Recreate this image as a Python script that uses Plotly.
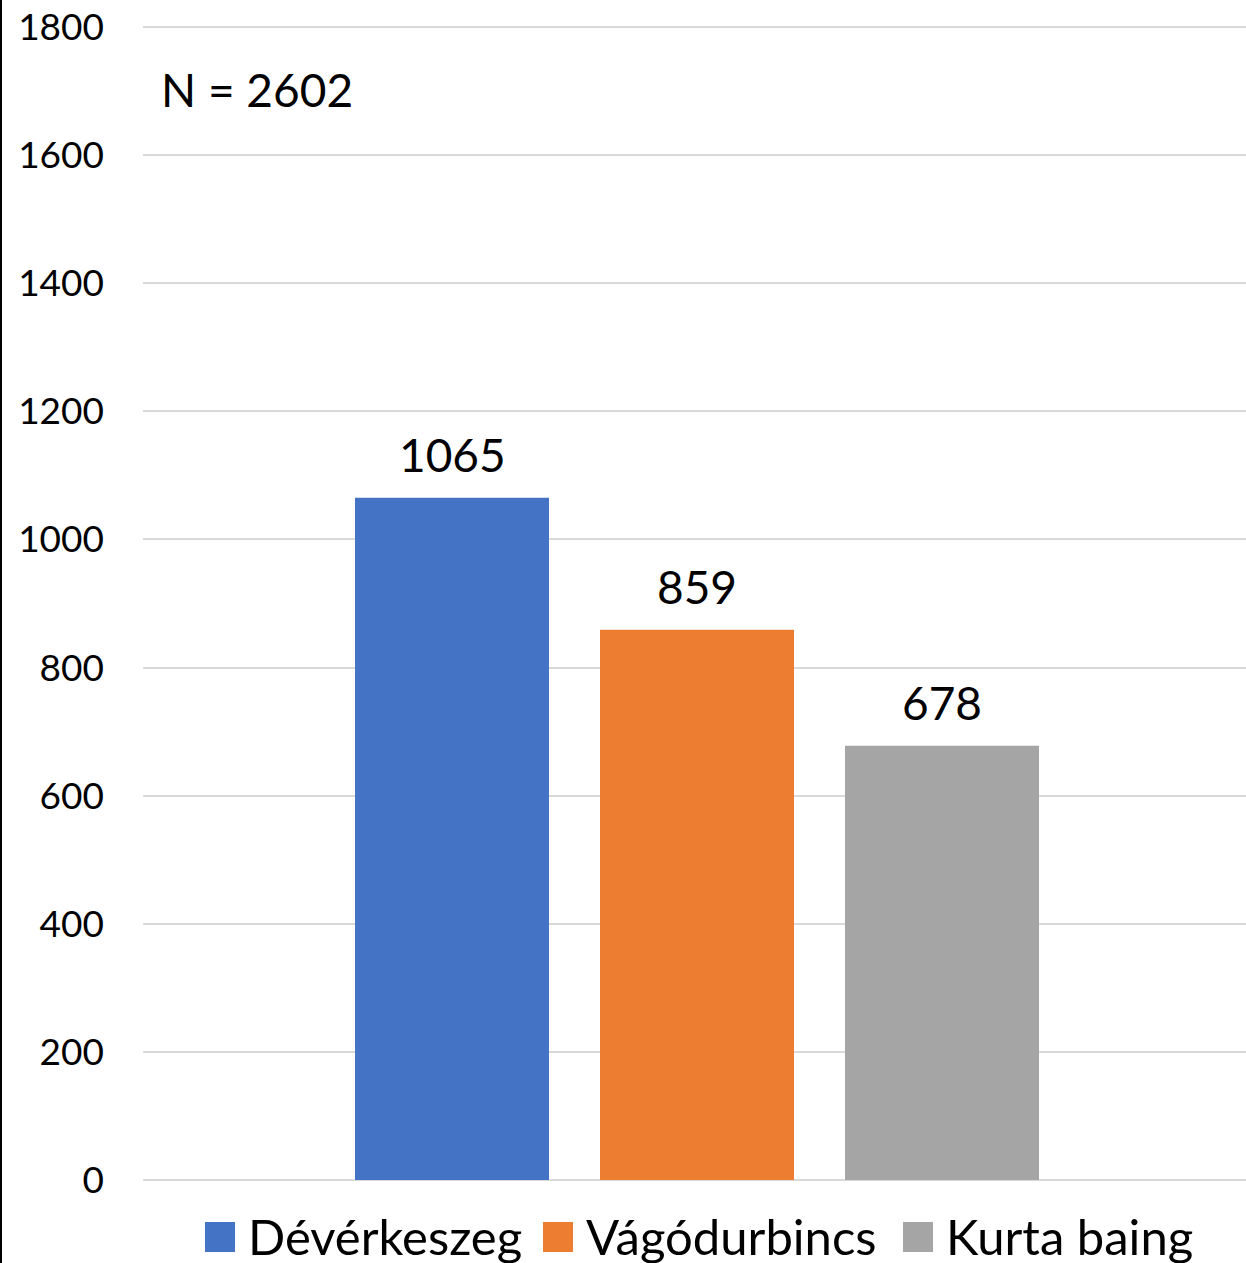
import plotly.graph_objects as go

series = ["Dévérkeszeg", "Vágódurbincs", "Kurta baing"]
values = [1065, 859, 678]
colors = ["#4472C4", "#ED7D31", "#A5A5A5"]
y_ticks = [0, 200, 400, 600, 800, 1000, 1200, 1400, 1600, 1800]
note = "N = 2602"

W, H = 1246, 1263
L, R, T, B = 143, 0, 20, 83
pw = W - L - R
ph = H - T - B
unit_px = 1153 / 1800  # pixels per value unit (0 at y=1180, 1800 at y=27)
y_top = ph / unit_px

def px_x(p):
    return (p - L) / pw

def px_y(p):
    return (H - B - p) / ph

FONT = "Lato"
bar_w = 194 / pw
step = 245 / pw
center = px_x(697)

fig = go.Figure()
for i, (name, v, c) in enumerate(zip(series, values, colors)):
    xc = center + (i - 1) * step
    fig.add_trace(go.Bar(x=[xc], y=[v], width=bar_w, name=name,
                         marker=dict(color=c, line=dict(width=0)),
                         showlegend=False, hoverinfo="name+y"))
    fig.add_annotation(x=xc, y=v, xref="x", yref="y", text=str(v),
                       showarrow=False, yanchor="bottom", yshift=14,
                       font=dict(family=FONT, size=46, color="black"))

# N annotation
fig.add_annotation(x=px_x(159), y=px_y(90), xref="paper", yref="paper",
                   text=note, showarrow=False, xanchor="left", yanchor="middle",
                   font=dict(family=FONT, size=46, color="black"))

# custom legend
sq_left = [205, 543, 903]
for name, c, sl in zip(series, colors, sq_left):
    fig.add_shape(type="rect", xref="paper", yref="paper",
                  x0=px_x(sl), x1=px_x(sl + 30), y0=px_y(1252), y1=px_y(1222),
                  fillcolor=c, line=dict(width=0))
    fig.add_annotation(x=px_x(sl + 41), y=px_y(1236), xref="paper", yref="paper",
                       text=name, showarrow=False, xanchor="left", yanchor="middle",
                       font=dict(family=FONT, size=49, color="black"))

# left border line
fig.add_shape(type="line", xref="paper", yref="paper",
              x0=px_x(1), x1=px_x(1), y0=px_y(H), y1=px_y(0),
              line=dict(color="black", width=2))

fig.update_layout(
    width=W, height=H,
    margin=dict(l=L, r=R, t=T, b=B, pad=0),
    plot_bgcolor="white", paper_bgcolor="white",
    barmode="overlay",
    showlegend=False,
    font=dict(family=FONT, color="black"),
    xaxis=dict(range=[0, 1], showticklabels=False, showgrid=False,
               zeroline=False, showline=False, fixedrange=True),
    yaxis=dict(range=[0, y_top], tickvals=y_ticks, ticktext=[str(t) for t in y_ticks],
               showgrid=True, gridcolor="#D9D9D9", gridwidth=2,
               zeroline=True, zerolinecolor="#D9D9D9", zerolinewidth=2,
               showline=False, ticks="", ticklabelstandoff=38,
               tickfont=dict(family=FONT, size=37, color="black")),
)

fig.write_html("out.html", config={"displayModeBar": False})

with open("out.html", "r", encoding="utf-8") as f:
    html = f.read()
html = html.replace("<body>", '<body style="margin:0;padding:0;overflow:hidden">', 1)
with open("out.html", "w", encoding="utf-8") as f:
    f.write(html)
